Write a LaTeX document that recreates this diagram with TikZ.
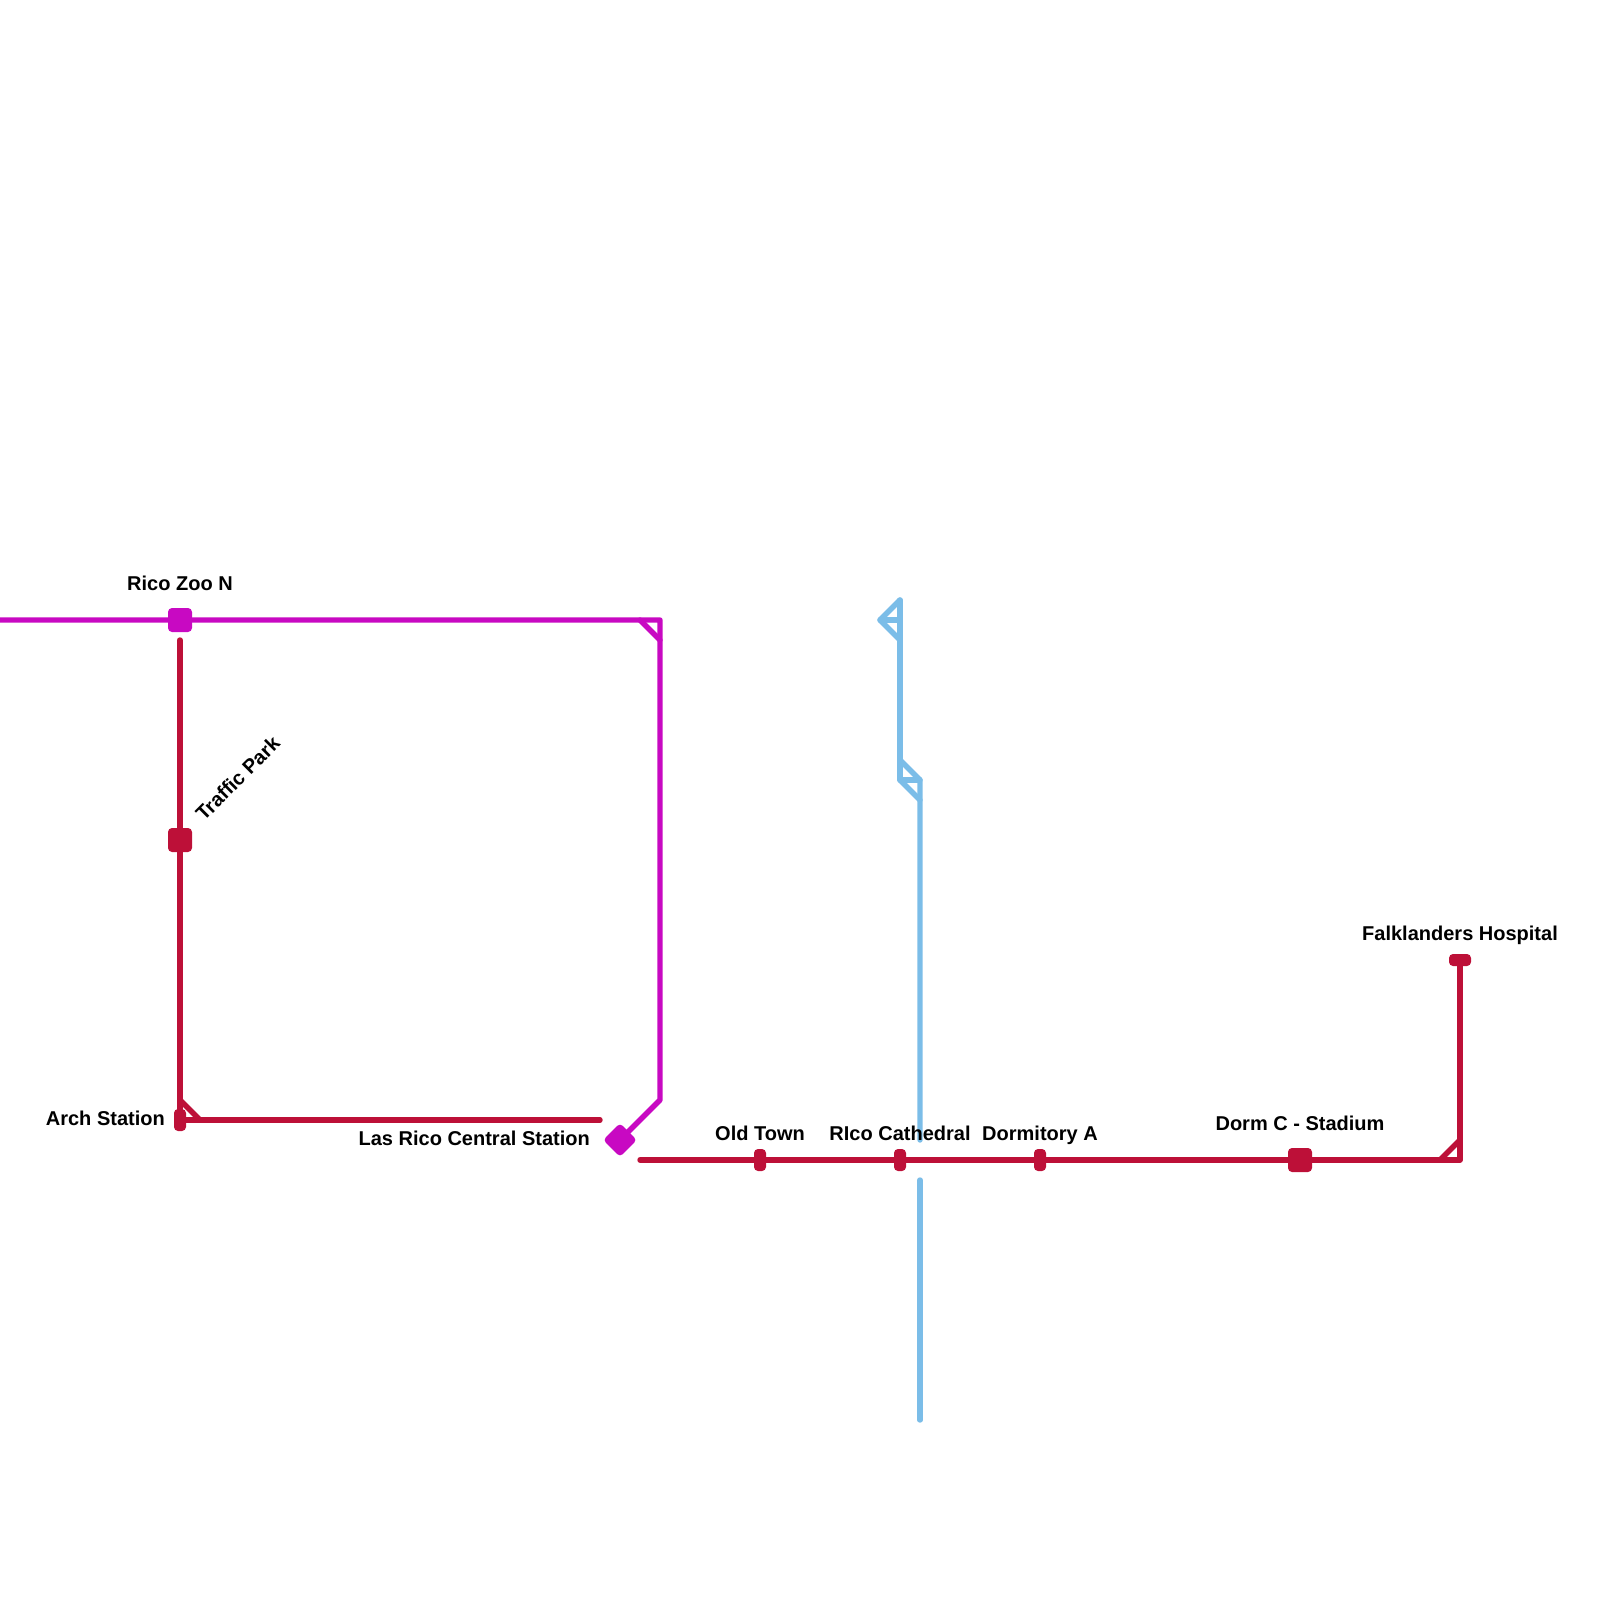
\documentclass[tikz,border=0pt]{standalone}
\usepackage{fontspec}
\setmainfont{Liberation Sans}
\definecolor{lred}{HTML}{BD1038}
\definecolor{lmag}{HTML}{C809C2}
\definecolor{lblue}{HTML}{7BBDE8}
\tikzset{
 x=1pt,y=-1pt,
 redline/.style={draw=lred,line width=5.4pt,line cap=round,line join=round},
 magline/.style={draw=lmag,line width=5.4pt,line cap=round,line join=round},
 blueline/.style={draw=lblue,line width=5.4pt,line cap=round,line join=round},
 stn/.style={rectangle,rounded corners=4pt,inner sep=0pt,outer sep=0pt},
 big/.style={stn,minimum width=24pt,minimum height=24pt},
 tall/.style={stn,minimum width=12pt,minimum height=22pt},
 wide/.style={stn,minimum width=22pt,minimum height=12pt},
 lbl/.style={font=\fontsize{20pt}{22pt}\selectfont\bfseries,text=black,inner sep=0pt},
}
\begin{document}
\begin{tikzpicture}
\useasboundingbox (0,0) rectangle (1600,1600);
% coordinates
\coordinate (m0) at (0,620);
\coordinate (m1) at (660,620);
\coordinate (m2) at (660,1100);
\coordinate (m3) at (640,620);
\coordinate (m4) at (660,640);
\coordinate (r0) at (180,640);
\coordinate (r1) at (180,1120);
\coordinate (r2) at (180,1100);
\coordinate (r3) at (200,1120);
\coordinate (r4) at (600,1120);
\coordinate (r5) at (640,1160);
\coordinate (r6) at (1460,1160);
\coordinate (r7) at (1440,1160);
\coordinate (r8) at (1460,1140);
\coordinate (b1) at (900,600);
\coordinate (b2) at (880,620);
\coordinate (b3) at (900,640);
\coordinate (b4) at (900,620);
\coordinate (b5) at (900,780);
\coordinate (b6) at (900,760);
\coordinate (b7) at (920,780);
\coordinate (b8) at (920,800);
\coordinate (b9) at (920,1140);
\coordinate (b10) at (920,1180);
\coordinate (b11) at (920,1420);
\path (180,620) coordinate (zoo) (180,840) coordinate (traffic) (180,1120) coordinate (arch)
      (620,1140) coordinate (central) (760,1160) coordinate (old) (900,1160) coordinate (cath)
      (1040,1160) coordinate (dorma) (1300,1160) coordinate (dormc) (1460,960) coordinate (falk);
% blue
\draw[blueline] (b1) -- (b2) -- (b3);
\draw[blueline] (b2) -- (b4);
\draw[blueline] (b1) -- (b5) -- (b7);
\draw[blueline] (b6) -- (b7) -- (b9);
\draw[blueline] (b5) -- (b8);
\draw[blueline] (b10) -- (b11);
% magenta
\draw[magline] (m0) -- (m1) -- (m2) -- (central);
\draw[magline] (m3) -- (m4);
% red
\draw[redline] (r0) -- (r1);
\draw[redline] (r2) -- (r3);
\draw[redline] (r1) -- (r4);
\draw[redline] (r5) -- (r6) -- (falk);
\draw[redline] (r7) -- (r8);
% stations
\node[big,fill=lmag] (nzoo) at (zoo) {};
\node[big,fill=lred] (ntraffic) at (traffic) {};
\node[tall,fill=lred] (narch) at (arch) {};
\node[big,fill=lmag,rotate=45] (ncentral) at (central) {};
\node[tall,fill=lred] (nold) at (old) {};
\node[tall,fill=lred] (ncath) at (cath) {};
\node[tall,fill=lred] (ndorma) at (dorma) {};
\node[big,fill=lred] (ndormc) at (dormc) {};
\node[wide,fill=lred] (nfalk) at (falk) {};
% labels
\node[lbl,anchor=base] (tzoo) at (180,590) {Rico Zoo N};
\node[lbl,rotate=45,anchor=base west] (ttraffic) at (204,822) {Traffic Park};
\node[lbl,anchor=base east] (tarch) at (165,1125) {Arch Station};
\node[lbl,anchor=base east] (tcentral) at (590,1145) {Las Rico Central Station};
\node[lbl,anchor=base] (told) at (760,1140) {Old Town};
\node[lbl,anchor=base] (tcath) at (900,1140) {RIco Cathedral};
\node[lbl,anchor=base] (tdorma) at (1040,1140) {Dormitory A};
\node[lbl,anchor=base] (tdormc) at (1300,1130) {Dorm C - Stadium};
\node[lbl,anchor=base] (tfalk) at (1460,940) {Falklanders Hospital};
\end{tikzpicture}
\end{document}
